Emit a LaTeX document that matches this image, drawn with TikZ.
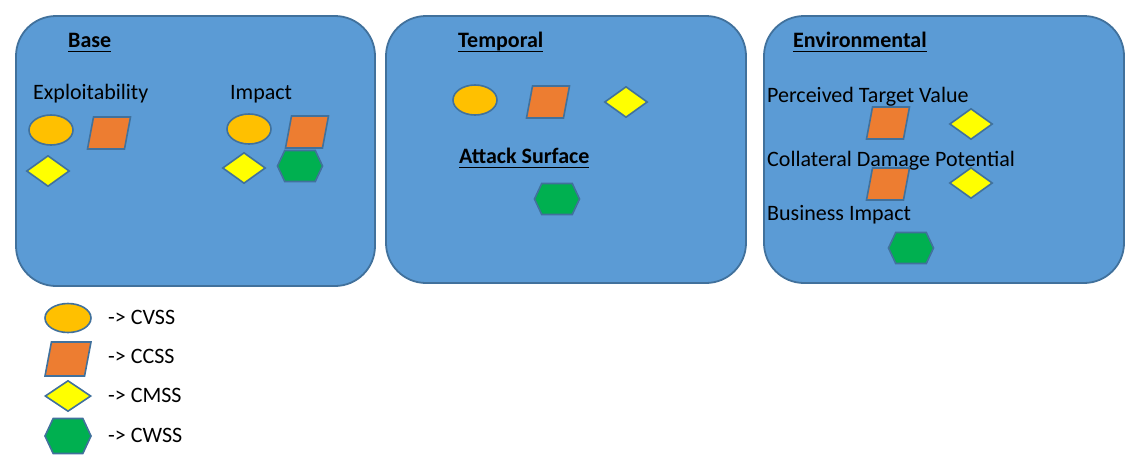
\documentclass[tikz,border=0pt]{standalone}
\usepackage{fontspec}
\setmainfont{Carlito}
\usetikzlibrary{shapes.geometric,shapes.symbols}

\definecolor{panelblue}{HTML}{5B9BD5}
\definecolor{edgeblue}{HTML}{41719C}
\definecolor{cvssorange}{HTML}{FFC000}
\definecolor{ccssorange}{HTML}{ED7D31}
\definecolor{cmssyellow}{HTML}{FFFF00}
\definecolor{cwssgreen}{HTML}{00B050}

% underline sitting at the same depth for every heading
\newcommand{\headline}[1]{\underline{\smash{#1}\vrule width 0pt depth 2.6pt}}

\begin{document}
\begin{tikzpicture}[x=1pt,y=-1pt,
  panel/.style={draw=edgeblue,fill=panelblue,line width=1.8pt,rounded corners=40pt,inner sep=0pt},
  shp/.style={draw=edgeblue,line width=1.6pt,inner sep=0pt},
  cvss/.style={shp,ellipse,fill=cvssorange,minimum width=44pt,minimum height=30pt},
  ccss/.style={shp,trapezium,trapezium left angle=79,trapezium right angle=101,
    trapezium stretches=true,inner sep=2pt,fill=ccssorange,minimum width=43pt,minimum height=32pt},
  cmss/.style={shp,diamond,fill=cmssyellow,minimum width=43pt,minimum height=31pt},
  cwss/.style={shp,signal,signal to=east and west,signal pointer angle=130,
    fill=cwssgreen,minimum width=45pt,minimum height=31pt},
  lbl/.style={anchor=base west,inner sep=0pt,font=\fontsize{22}{26}\selectfont},
  head/.style={lbl,font=\fontsize{22}{26}\selectfont\bfseries}]

\useasboundingbox (0,0) rectangle (1135,456);

% the three metric groups
\node[panel,minimum width=359pt,minimum height=270pt] (base) at (195.5,151) {};
\node[panel,minimum width=360pt,minimum height=267pt] (temporal) at (566,149.5) {};
\node[panel,minimum width=360pt,minimum height=267pt] (environmental) at (944,149.5) {};

% Base
\node[head] (base-title) at (68,47) {\headline{Base}};
\node[lbl] (exploit) at (33,99) {Exploitability};
\node[lbl] (impact) at (230,99) {Impact};
\node[cvss] (exploit-cvss) at (51,130) {};
\node[ccss] (exploit-ccss) at (109,133) {};
\node[cmss] (exploit-cmss) at (48,171) {};
\node[cvss] (impact-cvss) at (249,129) {};
\node[ccss] (impact-ccss) at (307,132) {};
\node[cmss] (impact-cmss) at (244,168) {};
\node[cwss] (impact-cwss) at (300,166) {};

% Temporal
\node[head] (temporal-title) at (458,47) {\headline{Temporal}};
\node[cvss] (temporal-cvss) at (475,100) {};
\node[ccss] (temporal-ccss) at (548,102) {};
\node[cmss] (temporal-cmss) at (626,102) {};
\node[head] (attack) at (459,163) {\headline{Attack Surface}};
\node[cwss] (attack-cwss) at (557,199) {};

% Environmental
\node[head] (env-title) at (793,47) {\headline{Environmental}};
\node[lbl] (target) at (767,102) {Perceived Target Value};
\node[ccss] (target-ccss) at (888,123) {};
\node[cmss] (target-cmss) at (971,124) {};
\node[lbl] (damage) at (767,166) {Collateral Damage Potential};
\node[ccss] (damage-ccss) at (888,184) {};
\node[cmss] (damage-cmss) at (971,183) {};
\node[lbl] (business) at (767,220) {Business Impact};
\node[cwss] (business-cwss) at (911,248) {};

% legend
\foreach \s/\y/\h/\b/\t in {cvss/318/29/324/CVSS, ccss/359/34/363/CCSS,
                            cmss/396/31/402/CMSS, cwss/436/35/442/CWSS} {
  \node[\s,minimum width=46pt,minimum height=\h pt] (key-\t) at (68,\y) {};
  \node[lbl] (keytext-\t) at (108,\b) {-> \t};
}

\end{tikzpicture}
\end{document}
